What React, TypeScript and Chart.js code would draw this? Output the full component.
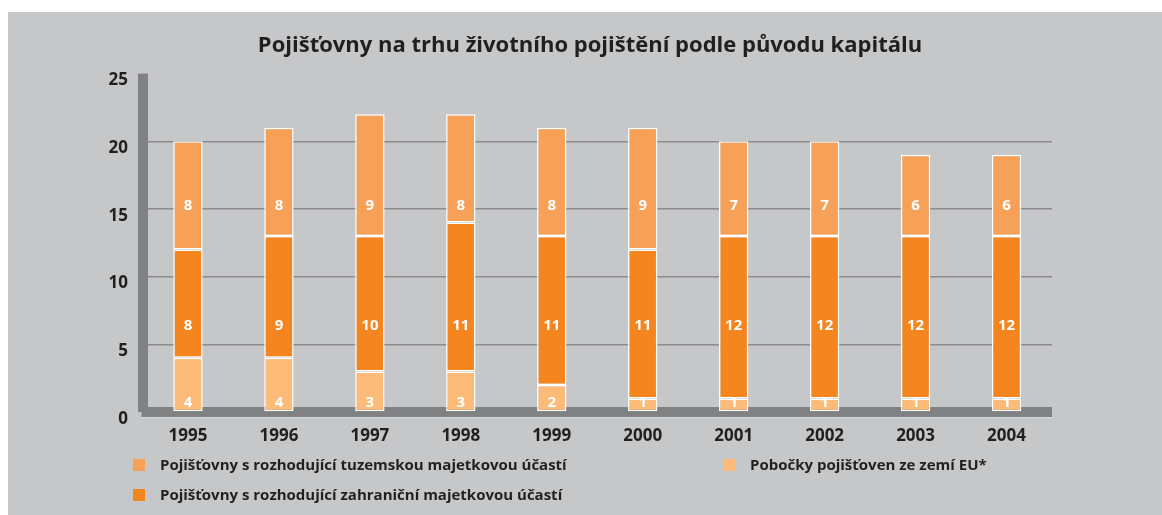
import React, { useEffect, useRef } from 'react';
import { Chart, registerables } from 'chart.js';

Chart.register(...registerables);

// ---- Data ----
const years = ['1995', '1996', '1997', '1998', '1999', '2000', '2001', '2002', '2003', '2004'];
const euBranches = [4, 4, 3, 3, 2, 1, 1, 1, 1, 1];
const foreignOwned = [8, 9, 10, 11, 11, 11, 12, 12, 12, 12];
const domesticOwned = [8, 8, 9, 8, 8, 9, 7, 7, 6, 6];
const yMin = 0;
const yMax = 25;
const yStep = 5;

const titleText = 'Pojišťovny na trhu životního pojištění podle původu kapitálu';
const labelDomestic = 'Pojišťovny s rozhodující tuzemskou majetkovou účastí';
const labelForeign = 'Pojišťovny s rozhodující zahraniční majetkovou účastí';
const labelEu = 'Pobočky pojišťoven ze zemí EU*';

// ---- Style ----
const COLOR_DOMESTIC = '#f7a158';
const COLOR_FOREIGN = '#f5861f';
const COLOR_EU = '#fdbb79';
const COLOR_BG = '#c6c7c9';
const COLOR_AXIS = '#808183';
const COLOR_GRID = '#8b8c8e';
const COLOR_TEXT = '#231f20';
const FONT = '"Open Sans", sans-serif';

// value levels at which segment numbers are printed (bottom, middle, top series)
const labelLevels = [0.66, 6.37, 15.24];

const decorPlugin = {
  id: 'decor',
  beforeDraw(chart: any) {
    const { ctx, width, height } = chart;
    ctx.save();
    ctx.fillStyle = '#ffffff';
    ctx.fillRect(0, 0, width, height);
    ctx.fillStyle = COLOR_BG;
    ctx.fillRect(8, 12, width - 8, height - 12);
    ctx.restore();
  },
  beforeDatasetsDraw(chart: any) {
    const { ctx, chartArea, scales } = chart;
    const y = scales.y;
    const top = y.getPixelForValue(yMax);
    const bottom = y.getPixelForValue(yMin);
    ctx.save();
    ctx.fillStyle = COLOR_AXIS;
    // vertical axis bar
    ctx.fillRect(chartArea.left - 4.5, top, 10, bottom - top);
    // horizontal axis bar
    ctx.fillRect(chartArea.left - 1, bottom - 5, chartArea.right - chartArea.left + 1, 10);
    ctx.fillStyle = '#d6d7d8';
    ctx.fillRect(chartArea.left - 1, bottom + 5, chartArea.right - chartArea.left + 1, 1.2);
    ctx.restore();
  },
  afterDatasetsDraw(chart: any) {
    const { ctx, scales } = chart;
    ctx.save();
    ctx.fillStyle = '#ffffff';
    ctx.font = `bold 15px ${FONT}`;
    ctx.textAlign = 'center';
    ctx.textBaseline = 'middle';
    chart.data.datasets.forEach((ds: any, i: number) => {
      const meta = chart.getDatasetMeta(i);
      const yPix = scales.y.getPixelForValue(labelLevels[i]);
      meta.data.forEach((bar: any, j: number) => {
        ctx.fillText(String(ds.data[j]), bar.x, yPix);
      });
    });
    ctx.restore();
  },
  afterDraw(chart: any) {
    const { ctx } = chart;
    ctx.save();
    // title
    ctx.fillStyle = COLOR_TEXT;
    ctx.font = `bold 22px ${FONT}`;
    ctx.textAlign = 'center';
    ctx.textBaseline = 'middle';
    ctx.fillText(titleText, 590, 46);
    // legend
    const ds = chart.data.datasets;
    const items = [
      { ds: ds[2], x: 133, y: 465 },
      { ds: ds[1], x: 133, y: 495 },
      { ds: ds[0], x: 723, y: 465 },
    ];
    ctx.font = `bold 15px ${FONT}`;
    ctx.textAlign = 'left';
    items.forEach((it) => {
      ctx.fillStyle = it.ds.backgroundColor;
      ctx.fillRect(it.x, it.y - 6, 12, 12);
      ctx.fillStyle = COLOR_TEXT;
      ctx.fillText(it.ds.label, it.x + 27, it.y + 1);
    });
    ctx.restore();
  },
};

export default function App() {
  const canvasRef = useRef<HTMLCanvasElement | null>(null);

  useEffect(() => {
    document.body.style.margin = '0';
    const canvas = canvasRef.current;
    if (!canvas) return;
    const commonBar = {
      borderColor: '#ffffff',
      borderWidth: 1.5,
      borderSkipped: false,
      barPercentage: 0.323,
      categoryPercentage: 1,
    };
    const chart = new Chart(canvas, {
      type: 'bar',
      data: {
        labels: years,
        datasets: [
          { label: labelEu, data: euBranches, backgroundColor: COLOR_EU, ...commonBar },
          { label: labelForeign, data: foreignOwned, backgroundColor: COLOR_FOREIGN, ...commonBar },
          { label: labelDomestic, data: domesticOwned, backgroundColor: COLOR_DOMESTIC, ...commonBar },
        ],
      },
      options: {
        responsive: false,
        animation: false,
        devicePixelRatio: 1,
        layout: { padding: { left: 18, right: 110, top: 73.6, bottom: 63 } },
        plugins: {
          legend: { display: false },
          title: { display: false },
          tooltip: { enabled: false },
        },
        scales: {
          x: {
            stacked: true,
            grid: { display: false, drawTicks: false },
            border: { display: false },
            ticks: {
              color: COLOR_TEXT,
              font: { family: FONT, weight: 'bold', size: 17 },
              padding: 14,
              maxRotation: 0,
            },
            afterFit: (scale: any) => {
              scale.height = 40;
            },
          },
          y: {
            stacked: true,
            min: yMin,
            max: yMax,
            grid: {
              drawTicks: false,
              lineWidth: 1.5,
              color: (c: any) =>
                c.tick && c.tick.value > yMin && c.tick.value < yMax ? COLOR_GRID : 'rgba(0,0,0,0)',
            },
            border: { display: false },
            ticks: {
              stepSize: yStep,
              color: COLOR_TEXT,
              font: { family: FONT, weight: 'bold', size: 17 },
              padding: 14.5,
              labelOffset: 7,
            },
            afterFit: (scale: any) => {
              scale.width = 124.5;
            },
          },
        },
      },
      plugins: [decorPlugin],
    } as any);
    return () => chart.destroy();
  }, []);

  return <canvas ref={canvasRef} width={1162} height={515} style={{ display: 'block' }} />;
}
